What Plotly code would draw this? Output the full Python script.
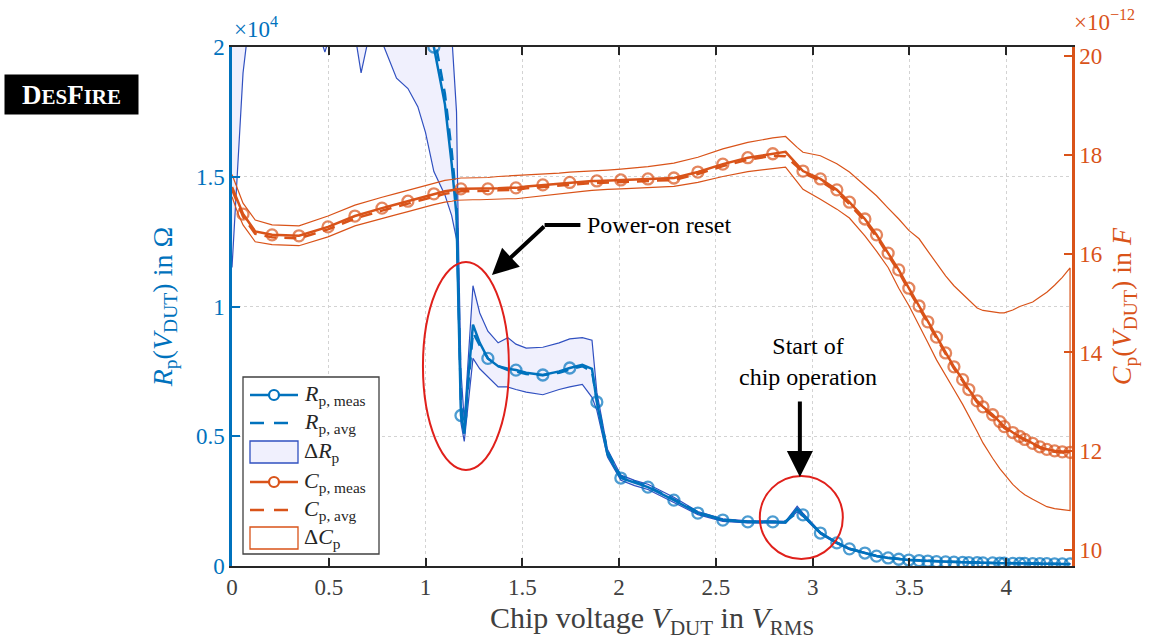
import numpy as np
import plotly.graph_objects as go

# ---------------- data ----------------
# chip voltage in V_RMS (common sample grid)
v = [0.000, 0.030, 0.057, 0.120, 0.207, 0.346, 0.480, 0.496, 0.635, 0.667, 0.710, 0.775, 0.850, 0.909,
     0.960, 1.000, 1.043, 1.100, 1.135, 1.160, 1.170, 1.183, 1.200, 1.220, 1.245, 1.280, 1.322, 1.375,
     1.425, 1.467, 1.520, 1.606, 1.690, 1.745, 1.810, 1.860, 1.885, 1.940, 2.009, 2.080, 2.149, 2.283,
     2.407, 2.536, 2.665, 2.794, 2.860, 2.920, 2.950, 3.040, 3.125, 3.190, 3.270, 3.330, 3.390, 3.445,
     3.497, 3.550, 3.595, 3.640, 3.687, 3.730, 3.775, 3.807, 3.850, 3.880, 3.930, 3.967, 3.990, 4.034,
     4.070, 4.096, 4.137, 4.174, 4.210, 4.250, 4.290, 4.330]

# voltages at which the measured curves carry a marker
v_mark = [0.057, 0.207, 0.346, 0.496, 0.635, 0.775, 0.909, 1.043, 1.183, 1.322, 1.467, 1.606, 1.745,
          1.885, 2.009, 2.149, 2.283, 2.407, 2.536, 2.665, 2.794, 2.950, 3.040, 3.125, 3.190, 3.270,
          3.330, 3.390, 3.445, 3.497, 3.550, 3.595, 3.640, 3.687, 3.730, 3.775, 3.807, 3.850, 3.880,
          3.930, 3.967, 3.990, 4.034, 4.070, 4.096, 4.137, 4.174, 4.210, 4.250, 4.290, 4.330]

# parallel resistance, in units of 1e4 Ohm
rp_meas = [2.40, 2.90, 3.00, 3.10, 3.10, 3.00, 2.80, 2.80, 2.70, 2.65, 2.65, 2.55, 2.45, 2.35,
           2.25, 2.15, 2.00, 1.78, 1.55, 1.35, 1.00, 0.58, 0.51, 0.72, 0.93, 0.86, 0.80, 0.77,
           0.76, 0.755, 0.745, 0.736, 0.750, 0.763, 0.775, 0.760, 0.632, 0.430, 0.339, 0.320, 0.304, 0.254,
           0.204, 0.177, 0.170, 0.170, 0.168, 0.220, 0.197, 0.127, 0.089, 0.066, 0.050, 0.038, 0.031, 0.026,
           0.023, 0.021, 0.019, 0.017, 0.016, 0.015, 0.014, 0.013, 0.013, 0.012, 0.012, 0.011, 0.011, 0.010,
           0.010, 0.010, 0.009, 0.009, 0.009, 0.008, 0.008, 0.008]
rp_avg = [2.50, 2.95, 3.05, 3.15, 3.15, 3.05, 2.85, 2.85, 2.75, 2.72, 2.70, 2.62, 2.52, 2.42,
          2.32, 2.20, 2.05, 1.82, 1.60, 1.40, 1.08, 0.62, 0.53, 0.70, 0.90, 0.85, 0.80, 0.77,
          0.755, 0.750, 0.740, 0.735, 0.745, 0.757, 0.770, 0.750, 0.640, 0.440, 0.345, 0.325, 0.307, 0.257,
          0.207, 0.178, 0.171, 0.170, 0.172, 0.205, 0.195, 0.128, 0.090, 0.067, 0.051, 0.039, 0.032, 0.027,
          0.024, 0.022, 0.020, 0.018, 0.017, 0.016, 0.015, 0.014, 0.013, 0.013, 0.012, 0.012, 0.011, 0.011,
          0.010, 0.010, 0.010, 0.009, 0.009, 0.009, 0.008, 0.008]
rp_lo = [1.15, 1.55, 1.90, 2.30, 2.40, 2.30, 1.98, 2.02, 2.05, 1.90, 2.05, 2.02, 1.88, 1.84,
         1.77, 1.67, 1.52, 1.43, 1.35, 1.26, 0.95, 0.55, 0.48, 0.62, 0.80, 0.76, 0.73, 0.69,
         0.69, 0.68, 0.67, 0.66, 0.68, 0.69, 0.70, 0.65, 0.60, 0.42, 0.330, 0.310, 0.295, 0.245,
         0.198, 0.172, 0.166, 0.166, 0.165, 0.210, 0.190, 0.123, 0.086, 0.063, 0.048, 0.036, 0.030, 0.025,
         0.022, 0.020, 0.018, 0.016, 0.015, 0.014, 0.013, 0.012, 0.012, 0.011, 0.011, 0.010, 0.010, 0.009,
         0.009, 0.009, 0.008, 0.008, 0.008, 0.007, 0.007, 0.007]
rp_hi = [3.60, 3.80, 3.80, 3.80, 3.80, 3.70, 3.60, 3.60, 3.50, 3.40, 3.40, 3.30, 3.20, 3.10,
         3.00, 2.80, 2.50, 2.25, 2.05, 1.75, 1.25, 0.75, 0.56, 0.80, 1.08, 0.975, 0.905, 0.86,
         0.88, 0.855, 0.84, 0.843, 0.86, 0.875, 0.88, 0.87, 0.67, 0.45, 0.350, 0.330, 0.315, 0.265,
         0.210, 0.182, 0.174, 0.174, 0.172, 0.230, 0.204, 0.131, 0.092, 0.069, 0.052, 0.040, 0.033, 0.028,
         0.025, 0.023, 0.021, 0.019, 0.018, 0.017, 0.016, 0.015, 0.014, 0.013, 0.013, 0.012, 0.012, 0.011,
         0.011, 0.011, 0.010, 0.010, 0.010, 0.009, 0.009, 0.009]

# parallel capacitance, in pF
cp_meas = [17.35, 17.05, 16.80, 16.45, 16.38, 16.36, 16.52, 16.54, 16.76, 16.80, 16.85, 16.92, 17.00, 17.06,
           17.12, 17.16, 17.21, 17.26, 17.28, 17.30, 17.30, 17.31, 17.31, 17.31, 17.31, 17.31, 17.31, 17.32,
           17.33, 17.33, 17.36, 17.39, 17.42, 17.44, 17.46, 17.47, 17.47, 17.48, 17.49, 17.50, 17.51, 17.53,
           17.65, 17.81, 17.94, 18.02, 18.06, 17.80, 17.67, 17.51, 17.29, 17.04, 16.70, 16.38, 16.01, 15.67,
           15.30, 14.94, 14.62, 14.31, 13.99, 13.71, 13.45, 13.25, 13.02, 12.90, 12.74, 12.60, 12.50, 12.38,
           12.30, 12.24, 12.16, 12.09, 12.04, 12.01, 11.99, 11.98]
cp_avg = [17.30, 17.00, 16.75, 16.40, 16.33, 16.31, 16.47, 16.49, 16.71, 16.75, 16.80, 16.87, 16.95, 17.01,
          17.07, 17.11, 17.16, 17.21, 17.23, 17.25, 17.25, 17.26, 17.26, 17.26, 17.26, 17.26, 17.27, 17.28,
          17.29, 17.29, 17.32, 17.35, 17.38, 17.40, 17.42, 17.43, 17.43, 17.44, 17.45, 17.46, 17.47, 17.49,
          17.61, 17.77, 17.90, 17.98, 17.97, 17.76, 17.63, 17.47, 17.25, 17.00, 16.66, 16.34, 15.97, 15.63,
          15.26, 14.90, 14.58, 14.27, 13.95, 13.68, 13.42, 13.22, 12.99, 12.87, 12.71, 12.57, 12.47, 12.36,
          12.28, 12.22, 12.14, 12.07, 12.02, 11.99, 11.97, 11.96]
cp_lo = [17.15, 16.82, 16.58, 16.24, 16.18, 16.16, 16.32, 16.34, 16.56, 16.60, 16.64, 16.71, 16.79, 16.85,
         16.90, 16.94, 16.99, 17.04, 17.06, 17.08, 17.08, 17.09, 17.09, 17.09, 17.09, 17.09, 17.09, 17.10,
         17.11, 17.11, 17.14, 17.17, 17.21, 17.23, 17.26, 17.28, 17.29, 17.30, 17.31, 17.32, 17.33, 17.36,
         17.44, 17.56, 17.66, 17.72, 17.75, 17.45, 17.30, 17.10, 16.90, 16.72, 16.36, 16.05, 15.72, 15.30,
         14.95, 14.55, 14.20, 13.85, 13.55, 13.25, 12.95, 12.73, 12.40, 12.17, 11.86, 11.65, 11.53, 11.33,
         11.20, 11.12, 11.03, 10.95, 10.88, 10.84, 10.82, 10.80]
cp_hi = [17.60, 17.30, 17.02, 16.68, 16.58, 16.56, 16.74, 16.76, 16.98, 17.02, 17.07, 17.14, 17.22, 17.28,
         17.34, 17.38, 17.43, 17.48, 17.50, 17.52, 17.52, 17.53, 17.53, 17.53, 17.53, 17.54, 17.54, 17.56,
         17.57, 17.58, 17.59, 17.60, 17.63, 17.65, 17.66, 17.67, 17.67, 17.69, 17.71, 17.73, 17.76, 17.83,
         17.95, 18.12, 18.25, 18.34, 18.37, 18.15, 18.05, 17.98, 17.82, 17.65, 17.38, 17.17, 16.92, 16.70,
         16.47, 16.30, 16.05, 15.80, 15.55, 15.35, 15.18, 15.05, 14.90, 14.85, 14.82, 14.80, 14.80, 14.86,
         14.93, 14.96, 15.02, 15.12, 15.22, 15.36, 15.52, 15.71]

x_ticks = [0, 0.5, 1, 1.5, 2, 2.5, 3, 3.5, 4]
rp_ticks = [0, 0.5, 1, 1.5, 2]
cp_ticks = [10, 12, 14, 16, 18, 20]

legend_labels = ["<i>R</i><sub>p, meas</sub>", "<i>R</i><sub>p, avg</sub>", "Δ<i>R</i><sub>p</sub>",
                 "<i>C</i><sub>p, meas</sub>", "<i>C</i><sub>p, avg</sub>", "Δ<i>C</i><sub>p</sub>"]

# ---------------- style ----------------
BLUE = "#0072BD"
ORANGE = "#D95319"
DARK = "#262626"
BAND_BLUE = "#3050C0"
BAND_FILL = "#F0F0FD"
RED = "#E0201B"
FONT = "Liberation Serif"

W, H = 1154, 641
ML, MR, MT, MB = 232, 82, 47, 75
PW, PH = W - ML - MR, H - MT - MB


def px(xp):  # pixel -> paper x
    return (xp - ML) / PW


def py(yp):  # pixel -> paper y
    return (H - MB - yp) / PH


va = np.array(v)
is_mark = np.isin(np.round(va, 3), np.round(np.array(v_mark), 3))
msize = np.where(is_mark, 11, 0)

fig = go.Figure()

# Rp traces
fig.add_trace(go.Scatter(
    x=v + v[::-1], y=rp_hi + rp_lo[::-1], mode="lines", fill="toself",
    fillcolor=BAND_FILL, line=dict(color=BAND_BLUE, width=1.2), name=legend_labels[2], yaxis="y"))
fig.add_trace(go.Scatter(
    x=v, y=rp_avg, mode="lines", line=dict(color=BLUE, width=2.5, dash="12px,8px"),
    name=legend_labels[1], yaxis="y"))
fig.add_trace(go.Scatter(
    x=v, y=rp_meas, mode="lines+markers", line=dict(color=BLUE, width=2.5),
    marker=dict(symbol="circle-open", size=msize, color=BLUE, line=dict(width=2.3, color=BLUE)),
    name=legend_labels[0], yaxis="y"))

# Cp traces
fig.add_trace(go.Scatter(
    x=v + v[::-1], y=cp_hi + cp_lo[::-1], mode="lines", fill="toself",
    fillcolor="rgba(255,255,255,0)", line=dict(color=ORANGE, width=1.2), name=legend_labels[5], yaxis="y2"))
fig.add_trace(go.Scatter(
    x=v, y=cp_avg, mode="lines", line=dict(color=ORANGE, width=2.5, dash="12px,8px"),
    name=legend_labels[4], yaxis="y2"))
fig.add_trace(go.Scatter(
    x=v, y=cp_meas, mode="lines+markers", line=dict(color=ORANGE, width=2.5),
    marker=dict(symbol="circle-open", size=msize, color=ORANGE, line=dict(width=2.3, color=ORANGE)),
    name=legend_labels[3], yaxis="y2"))

grid = dict(showgrid=True, gridcolor="#D3D3D3", griddash="dot", gridwidth=1)

fig.update_layout(
    width=W, height=H,
    margin=dict(l=ML, r=MR, t=MT, b=MB),
    paper_bgcolor="white", plot_bgcolor="white",
    font=dict(family=FONT, size=20, color=DARK),
    showlegend=False,
    xaxis=dict(range=[0, 4.34], tickvals=x_ticks, ticktext=[f"{t:g}" for t in x_ticks],
               showline=True, linecolor=DARK, linewidth=1.5, mirror="ticks",
               ticks="inside", ticklen=8, tickwidth=1.5, tickcolor=DARK, zeroline=False,
               tickfont=dict(size=23, color="#404040"),
               title=dict(text="Chip voltage <i>V</i><sub>DUT</sub> in <i>V</i><sub>RMS</sub>",
                          font=dict(size=30, color="#404040"), standoff=8),
               **grid),
    yaxis=dict(range=[0, 2], tickvals=rp_ticks, ticktext=[f"{t:g}" for t in rp_ticks],
               showline=True, linecolor=BLUE, linewidth=2.5, ticks="inside", ticklen=8,
               tickwidth=1.5, tickcolor=BLUE, zeroline=False,
               tickfont=dict(size=23, color=BLUE),
               title=dict(text="<i>R</i><sub>p</sub>(<i>V</i><sub>DUT</sub>) in Ω",
                          font=dict(size=28, color=BLUE), standoff=16),
               **grid),
    yaxis2=dict(range=[9.68, 20.18], tickvals=cp_ticks, ticktext=[str(t) for t in cp_ticks],
                overlaying="y", side="right", showline=True, linecolor=ORANGE, linewidth=2.5,
                ticks="inside", ticklen=8, tickwidth=1.5, tickcolor=ORANGE, zeroline=False,
                showgrid=False, tickfont=dict(size=23, color=ORANGE),
                title=dict(text="<i>C</i><sub>p</sub>(<i>V</i><sub>DUT</sub>) in <i>F</i>",
                           font=dict(size=28, color=ORANGE), standoff=10)),
)

ann = []
shapes = []

# exponent labels
ann.append(dict(xref="paper", yref="paper", x=0.0, y=1.0, xanchor="left", yanchor="bottom",
                text="×10<sup>4</sup>", showarrow=False, font=dict(size=23, color=BLUE), yshift=3))
ann.append(dict(xref="paper", yref="paper", x=1.0, y=1.0, xanchor="left", yanchor="bottom",
                text="×10<sup>−12</sup>", showarrow=False, font=dict(size=23, color=ORANGE), yshift=10))
# DesFire badge
ann.append(dict(xref="paper", yref="paper", x=px(71), y=py(95), xanchor="center", yanchor="middle",
                text="<b>D<span style='font-size:21px'>ES</span>F<span style='font-size:21px'>IRE</span></b>",
                showarrow=False, font=dict(size=27, color="white", family=FONT),
                bgcolor="black", width=125, height=31, borderpad=4))
# Power-on reset
ann.append(dict(xref="x", yref="y", x=1.823, y=1.314, xanchor="left", yanchor="middle",
                text="Power-on reset", showarrow=False, font=dict(size=24, color="black")))
ann.append(dict(xref="x", yref="y", x=1.343, y=1.121, ax=1.62, ay=1.314, axref="x", ayref="y",
                showarrow=True, arrowhead=2, arrowsize=1.3, arrowwidth=4, arrowcolor="black", text=""))
# Start of chip operation
ann.append(dict(xref="x", yref="y", x=2.975, y=0.79, xanchor="center", yanchor="middle",
                text="Start of<br>chip operation", showarrow=False, font=dict(size=24, color="black")))
ann.append(dict(xref="x", yref="y", x=2.934, y=0.343, ax=2.934, ay=0.64, axref="x", ayref="y",
                showarrow=True, arrowhead=2, arrowsize=1.3, arrowwidth=4, arrowcolor="black", text=""))

shapes += [
    dict(type="line", xref="x", yref="y", x0=1.615, y0=1.314, x1=1.80, y1=1.314,
         line=dict(color="black", width=4)),
    dict(type="circle", xref="x", yref="y", x0=0.9866, x1=1.4308, y0=0.370, y1=1.1715,
         line=dict(color=RED, width=2)),
    dict(type="circle", xref="x", yref="y", x0=2.727, x1=3.156, y0=0.027, y1=0.347,
         line=dict(color=RED, width=2)),
]

# ---- hand-drawn legend (MATLAB style) ----
shapes.append(dict(type="rect", xref="paper", yref="paper", x0=px(243), x1=px(379), y0=py(554), y1=py(377),
                   fillcolor="white", line=dict(color="#404040", width=1.3)))
rows = [395, 423, 452, 482, 510, 538]
sx0, sx1, sxm = 250, 298, 274
styles = [("meas", BLUE), ("avg", BLUE), ("band", BLUE), ("meas", ORANGE), ("avg", ORANGE), ("band", ORANGE)]
for (kind, col), yy, lab in zip(styles, rows, legend_labels):
    if kind == "meas":
        shapes.append(dict(type="line", xref="paper", yref="paper", x0=px(sx0), x1=px(sx1), y0=py(yy), y1=py(yy),
                           line=dict(color=col, width=2.5)))
        shapes.append(dict(type="circle", xref="paper", yref="paper", x0=px(sxm - 5), x1=px(sxm + 5),
                           y0=py(yy + 5), y1=py(yy - 5), fillcolor="white", line=dict(color=col, width=2.2)))
    elif kind == "avg":
        shapes.append(dict(type="line", xref="paper", yref="paper", x0=px(sx0), x1=px(sx1), y0=py(yy), y1=py(yy),
                           line=dict(color=col, width=2.5, dash="14px,10px")))
    else:
        shapes.append(dict(type="rect", xref="paper", yref="paper", x0=px(sx0), x1=px(sx1),
                           y0=py(yy + 11), y1=py(yy - 11),
                           fillcolor=BAND_FILL if col == BLUE else "white",
                           line=dict(color=BAND_BLUE if col == BLUE else col, width=1.3)))
    ann.append(dict(xref="paper", yref="paper", x=px(302), y=py(yy), xanchor="left", yanchor="middle",
                    text=lab, showarrow=False, font=dict(size=22, color=DARK)))

fig.update_layout(annotations=ann, shapes=shapes)

fig.write_html("out.html")
